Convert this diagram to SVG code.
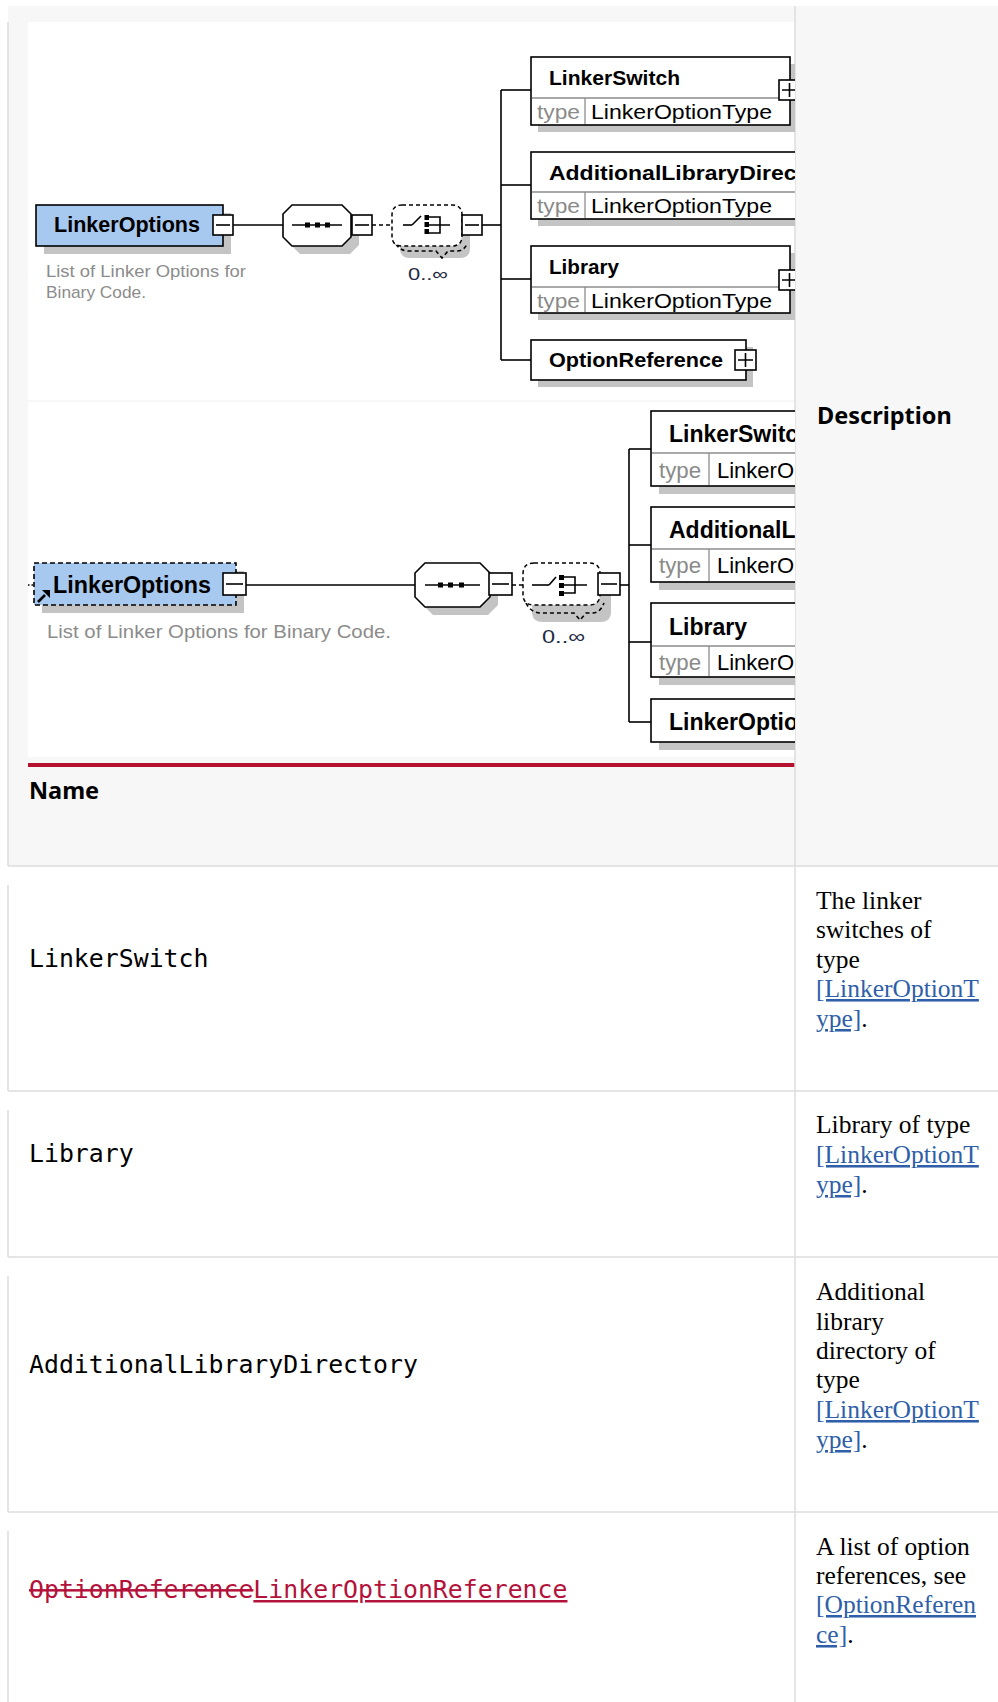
<svg xmlns="http://www.w3.org/2000/svg" width="998" height="1702" viewBox="0 0 998 1702">
<style>
.bx{fill:#fff;stroke:#000;stroke-width:1.6}
.root{fill:#a8c9ef;stroke:#000;stroke-width:1.6}
.sh{fill:#c4c4c4}
.sep{stroke:#8c8c8c;stroke-width:1.3}
.ln{stroke:#000;stroke-width:1.6;fill:none}
.dash{stroke-dasharray:4 3}
.blk{fill:#000}
.t1{font-family:"Liberation Sans",Arial,sans-serif;font-weight:bold;fill:#000}
.ty{font-family:"Liberation Sans",Arial,sans-serif;fill:#8a8a8a}
.tn{font-family:"Liberation Sans",Arial,sans-serif;fill:#000}
.ds{font-family:"Liberation Sans",Arial,sans-serif;fill:#8c8c8c}
.occ{font-family:"Liberation Sans",Arial,sans-serif;fill:#1f2a44}
.mono{font-family:"DejaVu Sans Mono","Liberation Mono",monospace;font-size:24.85px;fill:#000}
.ser{font-family:"Liberation Serif","Times New Roman",serif;font-size:25.5px;fill:#000}
.lk{fill:#2f5fa8;text-decoration:underline}
.hd{font-family:"Noto Sans","Liberation Sans",sans-serif;font-weight:bold;font-size:23.5px;fill:#000}
.bd{stroke:#dcdcdc;stroke-width:1.5;fill:none}
</style>
<defs>
<clipPath id="clipD"><rect x="28" y="22" width="767" height="735"/></clipPath>
</defs>

<!-- page / table background -->
<rect x="0" y="0" width="998" height="1702" fill="#fff"/>
<rect x="8" y="6" width="990" height="860" fill="#f7f7f7"/>
<rect x="28" y="22" width="767" height="735" fill="#fff"/>
<line x1="28" y1="401" x2="795" y2="401" stroke="#eeeeee" stroke-width="1"/>
<rect x="28" y="763" width="767" height="4" fill="#b5122f"/>

<g id="table-lines">
<line class="bd" x1="795" y1="6" x2="795" y2="1702"/>
<line class="bd" x1="8" y1="22" x2="8" y2="866"/>
<line class="bd" x1="8" y1="866" x2="998" y2="866"/>
<line class="bd" x1="8" y1="885" x2="8" y2="1091"/>
<line class="bd" x1="8" y1="1091" x2="998" y2="1091"/>
<line class="bd" x1="8" y1="1110" x2="8" y2="1257"/>
<line class="bd" x1="8" y1="1257" x2="998" y2="1257"/>
<line class="bd" x1="8" y1="1276" x2="8" y2="1512"/>
<line class="bd" x1="8" y1="1512" x2="998" y2="1512"/>
<line class="bd" x1="8" y1="1531" x2="8" y2="1702"/>
</g>

<g id="header">
<text class="hd" x="29" y="799">Name</text>
<text class="hd" x="817" y="424">Description</text>
</g>

<g clip-path="url(#clipD)">
<!-- ===== Diagram 1 ===== -->
<g id="connectors-d1">
<line class="ln" x1="233" y1="225" x2="283" y2="225"/>
<line class="ln dash" x1="372" y1="225" x2="392" y2="225"/>
<line class="ln" x1="482" y1="225" x2="501" y2="225"/>
<line class="ln" x1="501" y1="90" x2="501" y2="360"/>
<line class="ln" x1="501" y1="90" x2="531" y2="90"/>
<line class="ln" x1="501" y1="185" x2="531" y2="185"/>
<line class="ln" x1="501" y1="279" x2="531" y2="279"/>
<line class="ln" x1="501" y1="360" x2="531" y2="360"/>
</g>

<g id="d1-root">
<rect class="sh" x="44" y="213" width="187" height="41"/>
<rect class="root" x="36" y="205" width="187" height="41"/>
<text class="t1" x="54" y="232" font-size="21.5" textLength="146" lengthAdjust="spacingAndGlyphs">LinkerOptions</text>
<rect class="bx" x="213" y="215" width="20" height="20"/>
<line class="ln" x1="216" y1="225" x2="230" y2="225"/>
<text class="ds" x="46" y="277" font-size="17" textLength="200" lengthAdjust="spacingAndGlyphs">List of Linker Options for</text>
<text class="ds" x="46" y="298" font-size="17" textLength="100" lengthAdjust="spacingAndGlyphs">Binary Code.</text>
</g>

<g id="d1-sequence">
<polygon class="sh" points="300,213 350,213 359,222 359,245 350,254 300,254 291,245 291,222"/>
<polygon class="bx" points="292,205 342,205 351,214 351,237 342,246 292,246 283,237 283,214"/>
<line class="ln" x1="292" y1="225" x2="342" y2="225"/>
<rect class="blk" x="305" y="222.5" width="5" height="5"/>
<rect class="blk" x="315" y="222.5" width="5" height="5"/>
<rect class="blk" x="325" y="222.5" width="5" height="5"/>
<rect class="bx" x="352" y="215" width="20" height="20"/>
<line class="ln" x1="355" y1="225" x2="369" y2="225"/>
</g>

<g id="d1-choice">
<path class="sh" d="M410,214 H460 Q470,214 470,224 V248 Q470,258 460,258 H410 Q400,258 400,248 V224 Q400,214 410,214 Z"/>
<path class="ln dash" d="M396,244 Q400,251 409,251 H436 L442,258 L448,251 H457 Q464,251 467,244"/>
<path d="M402,205 H452 Q462,205 462,215 V236 Q462,246 452,246 H402 Q392,246 392,236 V215 Q392,205 402,205 Z" fill="#fff" stroke="#000" stroke-width="1.5" stroke-dasharray="4 3"/>
<line class="ln" x1="403" y1="225" x2="412" y2="225"/>
<line class="ln" x1="412" y1="225" x2="421" y2="216"/>
<rect class="blk" x="424.5" y="215" width="4.5" height="5"/>
<rect class="blk" x="424.5" y="222" width="4.5" height="5"/>
<rect class="blk" x="424.5" y="229" width="4.5" height="5"/>
<path class="ln" d="M429,217 H440 V233 H429 M429,225 H450"/>
<rect class="bx" x="462" y="215" width="20" height="20"/>
<line class="ln" x1="465" y1="225" x2="479" y2="225"/>
<text class="occ" x="408" y="280" font-size="17" textLength="40" lengthAdjust="spacingAndGlyphs">0..∞</text>
</g>

<g id="d1-linkerswitch">
<rect class="sh" x="538" y="64" width="259" height="68"/>
<rect class="bx" x="531" y="57" width="259" height="68"/>
<line class="sep" x1="532" y1="98" x2="789" y2="98"/>
<line class="sep" x1="585" y1="98" x2="585" y2="124"/>
<text class="t1" x="549" y="85" font-size="21" textLength="131" lengthAdjust="spacingAndGlyphs">LinkerSwitch</text>
<text class="ty" x="537" y="119" font-size="21" textLength="43" lengthAdjust="spacingAndGlyphs">type</text>
<text class="tn" x="591" y="119" font-size="21" textLength="181" lengthAdjust="spacingAndGlyphs">LinkerOptionType</text>
<rect class="bx" x="779" y="80" width="21" height="20"/>
<path class="ln" d="M782,90 H797 M789.5,83 V97"/>
</g>

<g id="d1-additionallibrarydirectory">
<rect class="sh" x="538" y="159" width="300" height="67"/>
<rect class="bx" x="531" y="152" width="300" height="67"/>
<line class="sep" x1="532" y1="192" x2="830" y2="192"/>
<line class="sep" x1="585" y1="192" x2="585" y2="218"/>
<text class="t1" x="549" y="180" font-size="21" textLength="291" lengthAdjust="spacingAndGlyphs">AdditionalLibraryDirectory</text>
<text class="ty" x="537" y="213" font-size="21" textLength="43" lengthAdjust="spacingAndGlyphs">type</text>
<text class="tn" x="591" y="213" font-size="21" textLength="181" lengthAdjust="spacingAndGlyphs">LinkerOptionType</text>
</g>

<g id="d1-library">
<rect class="sh" x="538" y="253" width="259" height="67"/>
<rect class="bx" x="531" y="246" width="259" height="67"/>
<line class="sep" x1="532" y1="287" x2="789" y2="287"/>
<line class="sep" x1="585" y1="287" x2="585" y2="312"/>
<text class="t1" x="549" y="274" font-size="21" textLength="70" lengthAdjust="spacingAndGlyphs">Library</text>
<text class="ty" x="537" y="308" font-size="21" textLength="43" lengthAdjust="spacingAndGlyphs">type</text>
<text class="tn" x="591" y="308" font-size="21" textLength="181" lengthAdjust="spacingAndGlyphs">LinkerOptionType</text>
<rect class="bx" x="779" y="270" width="21" height="20"/>
<path class="ln" d="M782,280 H797 M789.5,273 V287"/>
</g>

<g id="d1-optionreference">
<rect class="sh" x="538" y="347" width="215" height="40"/>
<rect class="bx" x="531" y="340" width="215" height="40"/>
<text class="t1" x="549" y="367" font-size="21" textLength="174" lengthAdjust="spacingAndGlyphs">OptionReference</text>
<rect class="bx" x="735" y="350" width="21" height="20"/>
<path class="ln" d="M738,360 H753 M745.5,353 V367"/>
</g>

<!-- ===== Diagram 2 ===== -->
<g id="connectors-d2">
<line class="ln" x1="28" y1="585" x2="34" y2="585" stroke-dasharray="1.5 2"/>
<line class="ln" x1="246" y1="585" x2="415" y2="585"/>
<line class="ln dash" x1="512" y1="585" x2="523" y2="585"/>
<line class="ln" x1="620" y1="585" x2="629" y2="585"/>
<line class="ln" x1="629" y1="449" x2="629" y2="722"/>
<line class="ln" x1="629" y1="449" x2="651" y2="449"/>
<line class="ln" x1="629" y1="545" x2="651" y2="545"/>
<line class="ln" x1="629" y1="642" x2="651" y2="642"/>
<line class="ln" x1="629" y1="722" x2="651" y2="722"/>
</g>

<g id="d2-root">
<rect class="sh" x="42" y="571" width="202" height="42"/>
<rect class="root" x="34" y="563" width="202" height="42" stroke-dasharray="5 3"/>
<text class="t1" x="53" y="593" font-size="23" textLength="158" lengthAdjust="spacingAndGlyphs">LinkerOptions</text>
<line x1="38" y1="602" x2="45" y2="595" stroke="#000" stroke-width="2.6"/>
<polygon class="blk" points="42,590 50,590 50,598"/>
<rect class="bx" x="223" y="573" width="23" height="22"/>
<line class="ln" x1="226" y1="584" x2="243" y2="584"/>
<text class="ds" x="47" y="638" font-size="19" textLength="344" lengthAdjust="spacingAndGlyphs">List of Linker Options for Binary Code.</text>
</g>

<g id="d2-sequence">
<polygon class="sh" points="433,571 488,571 498,581 498,605 488,615 433,615 423,605 423,581"/>
<polygon class="bx" points="425,563 480,563 490,573 490,597 480,607 425,607 415,597 415,573"/>
<line class="ln" x1="425" y1="585" x2="480" y2="585"/>
<rect class="blk" x="438" y="582.5" width="5" height="5"/>
<rect class="blk" x="448" y="582.5" width="5" height="5"/>
<rect class="blk" x="459" y="582.5" width="5" height="5"/>
<rect class="bx" x="489" y="573" width="23" height="22"/>
<line class="ln" x1="492" y1="584" x2="509" y2="584"/>
</g>

<g id="d2-choice">
<path class="sh" d="M543,573 H600 Q611,573 611,584 V612 Q611,622 600,622 H543 Q532,622 532,612 V584 Q532,573 543,573 Z"/>
<path class="ln dash" d="M526,603 Q531,613 541,613 H574 L580,620 L586,613 H593 Q600,613 604,603"/>
<path d="M534,563 H589 Q600,563 600,574 V594 Q600,605 589,605 H534 Q523,605 523,594 V574 Q523,563 534,563 Z" fill="#fff" stroke="#000" stroke-width="1.5" stroke-dasharray="4 3"/>
<line class="ln" x1="532" y1="585" x2="549" y2="585"/>
<line class="ln" x1="549" y1="585" x2="556" y2="577"/>
<rect class="blk" x="559" y="575" width="5" height="5"/>
<rect class="blk" x="559" y="583" width="5" height="5"/>
<rect class="blk" x="559" y="591" width="5" height="5"/>
<path class="ln" d="M564,577 H575 V593 H564 M564,585 H587"/>
<rect class="bx" x="598" y="573" width="22" height="22"/>
<line class="ln" x1="601" y1="584" x2="617" y2="584"/>
<text class="occ" x="542" y="643" font-size="19" textLength="43" lengthAdjust="spacingAndGlyphs">0..∞</text>
</g>

<g id="d2-linkerswitch">
<rect class="sh" x="659" y="419" width="300" height="75"/>
<rect class="bx" x="651" y="411" width="300" height="75"/>
<line class="sep" x1="652" y1="453" x2="950" y2="453"/>
<line class="sep" x1="709" y1="453" x2="709" y2="485"/>
<text class="t1" x="669" y="442" font-size="23">LinkerSwitch</text>
<text class="ty" x="659" y="478" font-size="22" textLength="42" lengthAdjust="spacingAndGlyphs">type</text>
<text class="tn" x="717" y="478" font-size="22">LinkerOptionType</text>
</g>

<g id="d2-additionallibrarydirectory">
<rect class="sh" x="659" y="515" width="300" height="75"/>
<rect class="bx" x="651" y="507" width="300" height="75"/>
<line class="sep" x1="652" y1="549" x2="950" y2="549"/>
<line class="sep" x1="709" y1="549" x2="709" y2="581"/>
<text class="t1" x="669" y="538" font-size="23">AdditionalLibraryDirectory</text>
<text class="ty" x="659" y="573" font-size="22" textLength="42" lengthAdjust="spacingAndGlyphs">type</text>
<text class="tn" x="717" y="573" font-size="22">LinkerOptionType</text>
</g>

<g id="d2-library">
<rect class="sh" x="659" y="611" width="300" height="74"/>
<rect class="bx" x="651" y="603" width="300" height="74"/>
<line class="sep" x1="652" y1="646" x2="950" y2="646"/>
<line class="sep" x1="709" y1="646" x2="709" y2="676"/>
<text class="t1" x="669" y="635" font-size="23">Library</text>
<text class="ty" x="659" y="670" font-size="22" textLength="42" lengthAdjust="spacingAndGlyphs">type</text>
<text class="tn" x="717" y="670" font-size="22">LinkerOptionType</text>
</g>

<g id="d2-linkeroptionreference">
<rect class="sh" x="659" y="707" width="300" height="43"/>
<rect class="bx" x="651" y="699" width="300" height="43"/>
<text class="t1" x="669" y="730" font-size="23">LinkerOptionReference</text>
</g>
</g>

<!-- ===== table rows ===== -->
<g id="row-linkerswitch">
<text class="mono" x="29" y="967">LinkerSwitch</text>
<text class="ser" x="816" y="909">The linker</text>
<text class="ser" x="816" y="938">switches of</text>
<text class="ser" x="816" y="968">type</text>
<text class="ser" x="816" y="997"><tspan class="lk">[LinkerOptionT</tspan></text>
<text class="ser" x="816" y="1027"><tspan class="lk">ype]</tspan>.</text>
</g>

<g id="row-library">
<text class="mono" x="29" y="1162">Library</text>
<text class="ser" x="816" y="1133">Library of type</text>
<text class="ser" x="816" y="1163"><tspan class="lk">[LinkerOptionT</tspan></text>
<text class="ser" x="816" y="1193"><tspan class="lk">ype]</tspan>.</text>
</g>

<g id="row-additionallibrarydirectory">
<text class="mono" x="29" y="1373">AdditionalLibraryDirectory</text>
<text class="ser" x="816" y="1300">Additional</text>
<text class="ser" x="816" y="1330">library</text>
<text class="ser" x="816" y="1359">directory of</text>
<text class="ser" x="816" y="1388">type</text>
<text class="ser" x="816" y="1418"><tspan class="lk">[LinkerOptionT</tspan></text>
<text class="ser" x="816" y="1448"><tspan class="lk">ype]</tspan>.</text>
</g>

<g id="row-optionreference">
<text class="mono" x="29" y="1598" fill="#b3123b" style="fill:#b3123b"><tspan text-decoration="line-through">OptionReference</tspan><tspan text-decoration="underline">LinkerOptionReference</tspan></text>
<text class="ser" x="816" y="1555">A list of option</text>
<text class="ser" x="816" y="1584">references, see</text>
<text class="ser" x="816" y="1613"><tspan class="lk">[OptionReferen</tspan></text>
<text class="ser" x="816" y="1643"><tspan class="lk">ce]</tspan>.</text>
</g>
</svg>
